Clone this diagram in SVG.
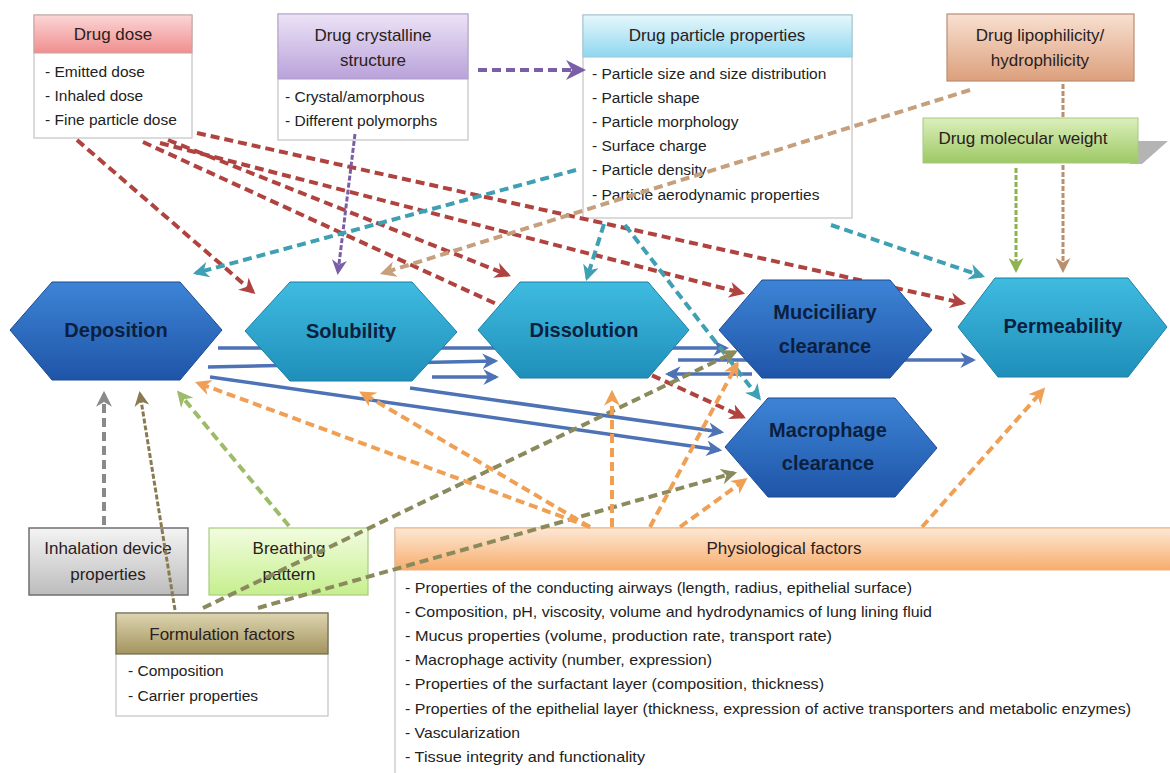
<svg xmlns="http://www.w3.org/2000/svg" width="1170" height="773" viewBox="0 0 1170 773">
<style>
text{font-family:"Liberation Sans",Arial,sans-serif;fill:#222}
.h{font-size:17px;text-anchor:middle;fill:#2a2020}
.i{font-size:15.5px}
.p{font-size:15px}
.hx{font-size:20px;font-weight:bold;text-anchor:middle;fill:#0b1f3e}
.box{stroke:#c4c4c4;stroke-width:1.2;fill:#fff}
.d{fill:none;stroke-width:4;stroke-dasharray:9 5}
.s{fill:none;stroke-width:3.5}
.f{fill:none;stroke-width:3;stroke-dasharray:5 2}
.hexD{fill:url(#gD);stroke:#1d4a90;stroke-width:1}
.hexT{fill:url(#gT);stroke:#1b7fa5;stroke-width:1}
</style>
<defs>
<linearGradient id="gPink" x1="0" y1="0" x2="0" y2="1"><stop offset="0" stop-color="#fbd6d6"/><stop offset="1" stop-color="#f08e8e"/></linearGradient>
<linearGradient id="gPurp" x1="0" y1="0" x2="0" y2="1"><stop offset="0" stop-color="#ece3f6"/><stop offset="1" stop-color="#b9a2da"/></linearGradient>
<linearGradient id="gCyan" x1="0" y1="0" x2="0" y2="1"><stop offset="0" stop-color="#e6f7fc"/><stop offset="1" stop-color="#8fd7f0"/></linearGradient>
<linearGradient id="gBrown" x1="0" y1="0" x2="0" y2="1"><stop offset="0" stop-color="#f8e0d0"/><stop offset="1" stop-color="#dc9f7c"/></linearGradient>
<linearGradient id="gGreen" x1="0" y1="0" x2="0" y2="1"><stop offset="0" stop-color="#dcefbc"/><stop offset="1" stop-color="#9dc964"/></linearGradient>
<linearGradient id="gGrey" x1="0" y1="0" x2="0" y2="1"><stop offset="0" stop-color="#f4f4f4"/><stop offset="1" stop-color="#bcbcbc"/></linearGradient>
<linearGradient id="gLime" x1="0" y1="0" x2="0" y2="1"><stop offset="0" stop-color="#f2fce0"/><stop offset="1" stop-color="#c6ef8e"/></linearGradient>
<linearGradient id="gOlive" x1="0" y1="0" x2="0" y2="1"><stop offset="0" stop-color="#ddd5b0"/><stop offset="1" stop-color="#a3945f"/></linearGradient>
<linearGradient id="gOrange" x1="0" y1="0" x2="0" y2="1"><stop offset="0" stop-color="#fde8d6"/><stop offset="1" stop-color="#f7ad6d"/></linearGradient>
<linearGradient id="gD" x1="0" y1="0" x2="0" y2="1"><stop offset="0" stop-color="#3d84d6"/><stop offset="1" stop-color="#1f55a8"/></linearGradient>
<linearGradient id="gT" x1="0" y1="0" x2="0" y2="1"><stop offset="0" stop-color="#3fbbe0"/><stop offset="1" stop-color="#1f8fba"/></linearGradient>
<marker id="aRed" viewBox="0 0 10 10" refX="8" refY="5" markerWidth="4" markerHeight="4" orient="auto"><path d="M0,0 L10,5 L0,10 L3,5 z" fill="#b0433f"/></marker>
<marker id="aTeal" viewBox="0 0 10 10" refX="8" refY="5" markerWidth="4" markerHeight="4" orient="auto"><path d="M0,0 L10,5 L0,10 L3,5 z" fill="#3f9fb3"/></marker>
<marker id="aPurp" viewBox="0 0 10 10" refX="8" refY="5" markerWidth="5" markerHeight="5" orient="auto"><path d="M0,0 L10,5 L0,10 L3,5 z" fill="#7a5ea8"/></marker>
<marker id="aTan" viewBox="0 0 10 10" refX="8" refY="5" markerWidth="4" markerHeight="4" orient="auto"><path d="M0,0 L10,5 L0,10 L3,5 z" fill="#c69f7c"/></marker>
<marker id="aTan2" viewBox="0 0 10 10" refX="8" refY="5" markerWidth="5" markerHeight="5" orient="auto"><path d="M0,0 L10,5 L0,10 L3,5 z" fill="#b89070"/></marker>
<marker id="aGreen" viewBox="0 0 10 10" refX="8" refY="5" markerWidth="5" markerHeight="5" orient="auto"><path d="M0,0 L10,5 L0,10 L3,5 z" fill="#8db24e"/></marker>
<marker id="aOrange" viewBox="0 0 10 10" refX="8" refY="5" markerWidth="4" markerHeight="4" orient="auto"><path d="M0,0 L10,5 L0,10 L3,5 z" fill="#f0a055"/></marker>
<marker id="aOlive" viewBox="0 0 10 10" refX="8" refY="5" markerWidth="4" markerHeight="4" orient="auto"><path d="M0,0 L10,5 L0,10 L3,5 z" fill="#8a8a5c"/></marker>
<marker id="aOlive2" viewBox="0 0 10 10" refX="8" refY="5" markerWidth="5" markerHeight="5" orient="auto"><path d="M0,0 L10,5 L0,10 L3,5 z" fill="#8a7a52"/></marker>
<marker id="aGrey" viewBox="0 0 10 10" refX="8" refY="5" markerWidth="4" markerHeight="4" orient="auto"><path d="M0,0 L10,5 L0,10 L3,5 z" fill="#8a8a8a"/></marker>
<marker id="aLime" viewBox="0 0 10 10" refX="8" refY="5" markerWidth="4" markerHeight="4" orient="auto"><path d="M0,0 L10,5 L0,10 L3,5 z" fill="#9cbc6a"/></marker>
<marker id="aBlue" viewBox="0 0 10 10" refX="8" refY="5" markerWidth="4.5" markerHeight="4.5" orient="auto"><path d="M0,0 L10,5 L0,10 L3,5 z" fill="#4d72b5"/></marker>
</defs>
<rect width="1170" height="773" fill="#fff"/>

<g id="drug-dose">
<rect class="box" x="34" y="15" width="158" height="123"/>
<rect x="34" y="15" width="158" height="38" fill="url(#gPink)" stroke="#c9a0a0" stroke-width="1"/>
<text class="h" x="113" y="40">Drug dose</text>
<text class="i" x="45" y="77">- Emitted dose</text>
<text class="i" x="45" y="101">- Inhaled dose</text>
<text class="i" x="45" y="125">- Fine particle dose</text>
</g>
<g id="drug-crystalline">
<rect class="box" x="278" y="14" width="190" height="126"/>
<rect x="278" y="14" width="190" height="65" fill="url(#gPurp)" stroke="#b0a0c8" stroke-width="1"/>
<text class="h" x="373" y="41">Drug crystalline</text>
<text class="h" x="373" y="66">structure</text>
<text class="i" x="285" y="102">- Crystal/amorphous</text>
<text class="i" x="285" y="126">- Different polymorphs</text>
</g>
<g id="drug-particle">
<rect class="box" x="583" y="15" width="269" height="203"/>
<rect x="583" y="15" width="269" height="42" fill="url(#gCyan)" stroke="#9cc8d8" stroke-width="1"/>
<text class="h" x="717" y="41">Drug particle properties</text>
<text class="i" x="592" y="79">- Particle size and size distribution</text>
<text class="i" x="592" y="103">- Particle shape</text>
<text class="i" x="592" y="127">- Particle morphology</text>
<text class="i" x="592" y="151">- Surface charge</text>
<text class="i" x="592" y="175">- Particle density</text>
<text class="i" x="592" y="200">- Particle aerodynamic properties</text>
</g>
<g id="drug-lipophilicity">
<rect x="947" y="14" width="187" height="67" fill="url(#gBrown)" stroke="#b98c72" stroke-width="1.2"/>
<text class="h" x="1040" y="41">Drug lipophilicity/</text>
<text class="h" x="1040" y="66">hydrophilicity</text>
</g>
<g id="drug-molecular-weight">
<polygon points="1130,141 1168,141 1142,164 1130,164" fill="#b4b4b4"/>
<rect x="923" y="118" width="215" height="45" fill="url(#gGreen)" stroke="#a8c884" stroke-width="1"/>
<text class="h" x="1023" y="144">Drug molecular weight</text>
</g>
<g id="inhalation-device">
<rect x="29" y="528" width="159" height="67" fill="url(#gGrey)" stroke="#6f6f6f" stroke-width="1.5"/>
<text class="h" x="108" y="554">Inhalation device</text>
<text class="h" x="108" y="580">properties</text>
</g>
<g id="breathing-pattern">
<rect x="209" y="528" width="159" height="67" fill="url(#gLime)" stroke="#a9cc80" stroke-width="1.2"/>
<text class="h" x="289" y="554">Breathing</text>
<text class="h" x="289" y="580">pattern</text>
</g>
<g id="formulation-factors">
<rect class="box" x="116" y="613" width="212" height="103"/>
<rect x="116" y="613" width="212" height="41" fill="url(#gOlive)" stroke="#6e6a4c" stroke-width="1.2"/>
<text class="h" x="222" y="640">Formulation factors</text>
<text class="i" x="128" y="676">- Composition</text>
<text class="i" x="128" y="701">- Carrier properties</text>
</g>
<g id="physiological-factors">
<rect class="box" x="395" y="528" width="790" height="260"/>
<rect x="395" y="528" width="790" height="42" fill="url(#gOrange)" stroke="#f0b080" stroke-width="1"/>
<text class="h" x="784" y="554">Physiological factors</text>
<text class="p" x="405" y="593" textLength="507" lengthAdjust="spacingAndGlyphs">- Properties of the conducting airways (length, radius, epithelial surface)</text>
<text class="p" x="405" y="617" textLength="527" lengthAdjust="spacingAndGlyphs">- Composition, pH, viscosity, volume and hydrodynamics of lung lining fluid</text>
<text class="p" x="405" y="641" textLength="427" lengthAdjust="spacingAndGlyphs">- Mucus properties (volume, production rate, transport rate)</text>
<text class="p" x="405" y="665" textLength="307" lengthAdjust="spacingAndGlyphs">- Macrophage activity (number, expression)</text>
<text class="p" x="405" y="689" textLength="419" lengthAdjust="spacingAndGlyphs">- Properties of the surfactant layer (composition, thickness)</text>
<text class="p" x="405" y="714" textLength="726" lengthAdjust="spacingAndGlyphs">- Properties of the epithelial layer (thickness, expression of active transporters and metabolic enzymes)</text>
<text class="p" x="405" y="738" textLength="115" lengthAdjust="spacingAndGlyphs">- Vascularization</text>
<text class="p" x="405" y="762" textLength="240" lengthAdjust="spacingAndGlyphs">- Tissue integrity and functionality</text>
</g>

<g id="connectors">
<!-- blue solid -->
<path class="s" stroke="#4d72b5" d="M218,348 L726,348" marker-end="url(#aBlue)"/>
<path class="s" stroke="#4d72b5" d="M208,367 L495,361" marker-end="url(#aBlue)"/>
<path class="s" stroke="#4d72b5" d="M432,377 L496,377" marker-end="url(#aBlue)"/>
<path class="s" stroke="#4d72b5" d="M678,360 L973,360" marker-end="url(#aBlue)"/>
<path class="s" stroke="#4d72b5" d="M752,374 L668,374" marker-end="url(#aBlue)"/>
<path class="s" stroke="#4d72b5" d="M210,377 L719,450" marker-end="url(#aBlue)"/>
<path class="s" stroke="#4d72b5" d="M410,388 L721,432" marker-end="url(#aBlue)"/>
<!-- red from drug dose -->
<path class="d" stroke="#b0433f" d="M77,140 L253,292" marker-end="url(#aRed)"/>
<path class="d" stroke="#b0433f" d="M168,140 L508,275" marker-end="url(#aRed)"/>
<path class="d" stroke="#b0433f" d="M143,142 L743,417" marker-end="url(#aRed)"/>
<path class="d" stroke="#b0433f" d="M160,143 L742,293" marker-end="url(#aRed)"/>
<path class="d" stroke="#b0433f" d="M197,133 L963,303" marker-end="url(#aRed)"/>
<!-- purple -->
<path class="d" stroke="#7a5ea8" d="M478,70 L582,70" marker-end="url(#aRed)" style="marker-end:url(#aPurp)"/>
<path class="f" stroke="#7a5ea8" d="M355,134 L338,272" marker-end="url(#aPurp)"/>
<!-- teal from particle -->
<path class="d" stroke="#3f9fb3" d="M576,170 L196,273" marker-end="url(#aTeal)"/>
<path class="d" stroke="#3f9fb3" d="M604,224 L587,278" marker-end="url(#aTeal)"/>
<path class="d" stroke="#3f9fb3" d="M625,225 L759,398" marker-end="url(#aTeal)"/>
<path class="d" stroke="#3f9fb3" d="M831,225 L982,276" marker-end="url(#aTeal)"/>
<!-- tan from lipophilicity -->
<path class="d" stroke="#c69f7c" d="M970,90 L383,273" marker-end="url(#aTan)"/>
<path class="f" stroke="#b89070" d="M1063,84 V117 M1063,165 V270" marker-end="url(#aTan2)"/>
<!-- green from molecular weight -->
<path class="f" stroke="#8db24e" d="M1016,168 V270" marker-end="url(#aGreen)"/>
<!-- grey inhalation -->
<path class="d" stroke="#8a8a8a" d="M104,525 V394" marker-end="url(#aGrey)"/>
<!-- breathing -->
<path class="d" stroke="#9cbc6a" d="M289,526 L179,393" marker-end="url(#aLime)"/>
<!-- formulation -->
<path class="f" stroke="#8a7a52" d="M175,610 L140,394" marker-end="url(#aOlive2)"/>
<path class="d" stroke="#8a8a5c" d="M203,608 L735,352" marker-end="url(#aOlive)"/>
<path class="d" stroke="#8a8a5c" d="M258,608 L734,473" marker-end="url(#aOlive)"/>
<!-- orange physiological -->
<path class="d" stroke="#f0a055" d="M590,527 L198,383" marker-end="url(#aOrange)"/>
<path class="d" stroke="#f0a055" d="M590,527 L362,393" marker-end="url(#aOrange)"/>
<path class="d" stroke="#f0a055" d="M612,527 V393" marker-end="url(#aOrange)"/>
<path class="d" stroke="#f0a055" d="M650,527 L737,364" marker-end="url(#aOrange)"/>
<path class="d" stroke="#f0a055" d="M680,527 L745,480" marker-end="url(#aOrange)"/>
<path class="d" stroke="#f0a055" d="M922,527 L1043,390" marker-end="url(#aOrange)"/>
</g>

<g id="deposition">
<polygon class="hexD" points="10,330 52,282 180,282 222,330 180,380 52,380"/>
<text class="hx" x="116" y="337">Deposition</text>
</g>
<g id="solubility">
<polygon class="hexT" points="245,331 290,282 412,282 457,332 412,381 290,381"/>
<text class="hx" x="351" y="338">Solubility</text>
</g>
<g id="dissolution">
<polygon class="hexT" points="478,330 520,282 648,282 689,330 648,378 520,378"/>
<text class="hx" x="584" y="337">Dissolution</text>
</g>
<g id="mucociliary-clearance">
<polygon class="hexD" points="719,330 762,280 890,280 932,330 890,378 762,378"/>
<text class="hx" x="825" y="319">Muciciliary</text>
<text class="hx" x="825" y="353">clearance</text>
</g>
<g id="macrophage-clearance">
<polygon class="hexD" points="725,447 768,398 895,398 937,448 895,497 768,497"/>
<text class="hx" x="828" y="437">Macrophage</text>
<text class="hx" x="828" y="470">clearance</text>
</g>
<g id="permeability">
<polygon class="hexT" points="958,327 995,278 1128,278 1167,327 1128,377 998,377"/>
<text class="hx" x="1063" y="333">Permeability</text>
</g>
</svg>
